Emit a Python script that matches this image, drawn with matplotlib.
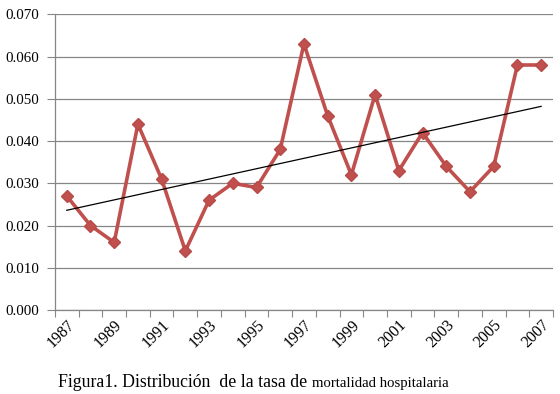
#!/usr/bin/env python3

# plot.py - Hospital mortality rate by year, with linear trend

import matplotlib
matplotlib.use("Agg")
import matplotlib.pyplot as plt
import numpy as np

YEARS = list(range(1987, 2008))
RATE = [0.027, 0.020, 0.016, 0.044, 0.031, 0.014, 0.026, 0.030, 0.029, 0.038,
        0.063, 0.046, 0.032, 0.051, 0.033, 0.042, 0.034, 0.028, 0.034, 0.058, 0.058]
Y_TICKS = [0.0, 0.01, 0.02, 0.03, 0.04, 0.05, 0.06, 0.07]

CAPTION_A = "Figura1. Distribución  de la tasa de "
CAPTION_B = "mortalidad hospitalaria"

plt.rcParams["font.family"] = ["Liberation Serif", "DejaVu Serif"]

fig = plt.figure(figsize=(5.6, 3.94), dpi=100, facecolor="white")
ax = fig.add_axes([0.098, 0.2132, 0.8895, 0.7505])

x = np.arange(len(YEARS))
ax.plot(x, RATE, color="#C0504D", linewidth=2.6, marker="D", markersize=6,
        markerfacecolor="#C0504D", markeredgecolor="#B84A47", zorder=3)

# linear trend (Excel-style)
slope, intercept = np.polyfit(x, RATE, 1)
ax.plot(x, slope * x + intercept, color="black", linewidth=0.9, zorder=4)

ax.set_xlim(-0.5, len(YEARS) - 0.5)
ax.set_ylim(0, 0.07)
ax.set_yticks(Y_TICKS)
ax.set_yticklabels([f"{v:.3f}" for v in Y_TICKS], fontsize=10.8)
ax.grid(axis="y", color="#868686", linewidth=0.9)
ax.set_axisbelow(True)

# ticks between categories, labels on every other category
ax.set_xticks(np.arange(len(YEARS) + 1) - 0.5)
ax.set_xticklabels([])
ax.set_xticks(x[::2], minor=True)
ax.set_xticklabels([str(y) for y in YEARS[::2]], minor=True, rotation=45,
                   ha="right", va="top", rotation_mode="anchor", fontsize=11.5)
ax.tick_params(axis="x", which="minor", length=0, pad=5)
ax.tick_params(axis="x", which="major", length=5, color="#868686")
ax.tick_params(axis="y", length=6, color="#868686", pad=5)

for side in ["top", "right"]:
    ax.spines[side].set_visible(False)
for side in ["left", "bottom"]:
    ax.spines[side].set_color("#868686")
    ax.spines[side].set_linewidth(0.9)

# caption in two sizes, as in the source document
t1 = fig.text(0.104, 0.018, CAPTION_A, fontsize=12.8, ha="left", va="baseline")
fig.canvas.draw()
bb = t1.get_window_extent(fig.canvas.get_renderer())
fig.text(bb.x1 / fig.bbox.width, 0.018, CAPTION_B, fontsize=10.6,
         ha="left", va="baseline")

fig.savefig("out.png", dpi=100, facecolor="white")
